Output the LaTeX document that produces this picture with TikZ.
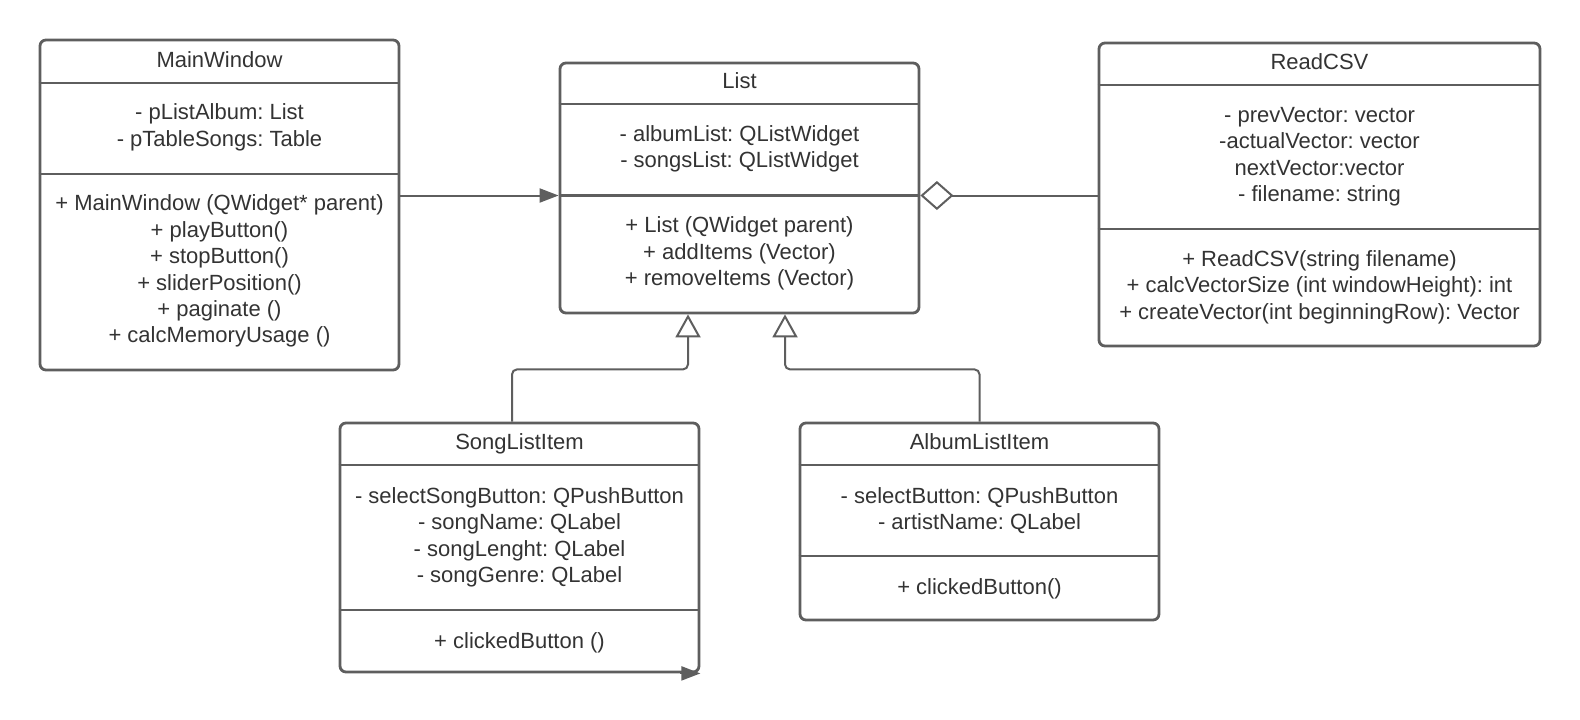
\documentclass[tikz,border=0pt]{standalone}
\usepackage{fontspec}
\setmainfont{Liberation Sans}
\frenchspacing
\usetikzlibrary{arrows.meta,positioning,calc}
\definecolor{edge}{HTML}{5E5E5E}
\definecolor{ink}{HTML}{333333}

\begin{document}
\begin{tikzpicture}[x=0.5pt,y=-0.5pt,
              font=\fontsize{11}{13.2}\selectfont,text=ink,
              cls/.style={draw=edge,line width=1.4pt,rounded corners=3pt,fill=white,inner sep=0},
              sep/.style={draw=edge,line width=1.4pt},
              txt/.style={anchor=north,align=center,inner sep=0},
              assoc/.style={draw=edge,line width=1pt,-{Triangle[length=9.5pt,width=7pt]}},
              aggr/.style={draw=edge,line width=1pt,{Diamond[open,length=16.5pt,width=14.5pt]}-},
              inh/.style={draw=edge,line width=1pt,rounded corners=2.5pt,{Triangle[open,length=11.5pt,width=12.5pt]}-}]
              \fill[white] (0,0) rectangle (1580,719);
              \useasboundingbox (0,0) rectangle (1580,719);
              % class boxes
              \node[cls,minimum width=179.5pt,minimum height=165pt] (mw) at (219.5,205) {};
              \node[cls,minimum width=179.5pt,minimum height=125pt] (lst) at (739.5,188) {};
              \node[cls,minimum width=220.5pt,minimum height=151.5pt] (csv) at (1319.5,194.5) {};
              \node[cls,minimum width=179.5pt,minimum height=124.5pt] (sli) at (519.5,547.5) {};
              \node[cls,minimum width=179.5pt,minimum height=98.5pt] (ali) at (979.5,521.5) {};
              % compartments
              \draw[sep] (mw.west |- 0,83) -- (mw.east |- 0,83) (mw.west |- 0,174) -- (mw.east |- 0,174);
              \draw[sep] (lst.west |- 0,104) -- (lst.east |- 0,104) (lst.west |- 0,195.5) -- (lst.east |- 0,195.5);
              \draw[sep] (csv.west |- 0,85) -- (csv.east |- 0,85) (csv.west |- 0,229) -- (csv.east |- 0,229);
              \draw[sep] (sli.west |- 0,465) -- (sli.east |- 0,465) (sli.west |- 0,610) -- (sli.east |- 0,610);
              \draw[sep] (ali.west |- 0,465) -- (ali.east |- 0,465) (ali.west |- 0,556) -- (ali.east |- 0,556);
              \coordinate (lst-ms) at (739.5,195.5);
              % texts
              \node[txt] (mw-t) at (219.5,51.5) {MainWindow};
              \node[txt] (mw-a) at (219.5,103.5) {- pListAlbum: List\\- pTableSongs: Table};
              \node[txt] (mw-m) at (219.5,194.5) {+ MainWindow (QWidget* parent)\\+ playButton()\\+ stopButton()\\+ sliderPosition()\\+ paginate ()\\+ calcMemoryUsage ()};
              \node[txt] (lst-t) at (739.5,72.5) {List};
              \node[txt] (lst-a) at (739.5,125) {- albumList: QListWidget\\- songsList: QListWidget};
              \node[txt] (lst-m) at (739.5,216.5) {+ List (QWidget parent)\\+ addItems (Vector)\\+ removeItems (Vector)};
              \node[txt] (csv-t) at (1319.5,53.5) {ReadCSV};
              \node[txt] (csv-a) at (1319.5,107) {- prevVector: vector\\-actualVector: vector\\nextVector:vector\\- filename: string};
              \node[txt] (csv-m) at (1319.5,250) {+ ReadCSV(string filename)\\+ calcVectorSize (int windowHeight): int\\+ createVector(int beginningRow): Vector};
              \node[txt] (sli-t) at (519.5,433.5) {SongListItem};
              \node[txt] (sli-a) at (519.5,487) {- selectSongButton: QPushButton\\- songName: QLabel\\- songLenght: QLabel\\- songGenre: QLabel};
              \node[txt] (sli-m) at (519.5,632) {+ clickedButton ()};
              \node[txt] (ali-t) at (979.5,433.5) {AlbumListItem};
              \node[txt] (ali-a) at (979.5,487) {- selectButton: QPushButton\\- artistName: QLabel};
              \node[txt] (ali-m) at (979.5,578.5) {+ clickedButton()};
              % relations
              \draw[assoc] (mw.east |- lst-ms) -- (lst.west |- lst-ms);
              \draw[aggr] (lst.east |- lst-ms) -- (csv.west |- lst-ms);
              \draw[inh] ([xshift=-25.75pt]lst.south) -- ++(0,55) -| ([xshift=-3.75pt]sli.north);
              \draw[inh] ([xshift=22.75pt]lst.south) -- ++(0,55) -| (ali.north);
              \coordinate (sli-end) at ([xshift=-10pt]sli.south east);
              \draw[assoc] (sli-end) -- (sli.south east);
            \end{tikzpicture}
\end{document}
